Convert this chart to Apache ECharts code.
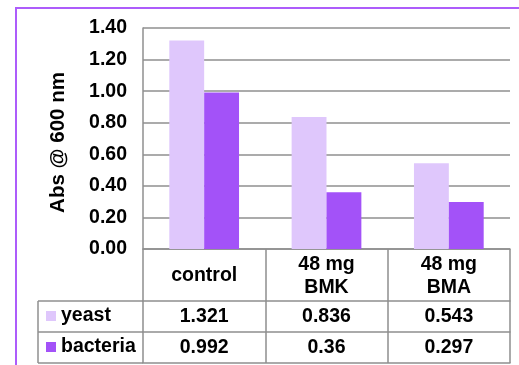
<!DOCTYPE html>
<html>
<head>
<meta charset="utf-8">
<script src="https://cdn.jsdelivr.net/npm/echarts@6/dist/echarts.min.js"></script>
<style>
  html, body { margin: 0; padding: 0; background: #fff; }
  #chart { width: 519px; height: 365px; }
</style>
</head>
<body>
<div id="chart"></div>
<script>
const categories = ['control', '48 mg\nBMK', '48 mg\nBMA'];
const seriesNames = ['yeast', 'bacteria'];
const yeast = [1.321, 0.836, 0.543];
const bacteria = [0.992, 0.36, 0.297];
const yMin = 0, yMax = 1.4, yStep = 0.2;
const yTitle = 'Abs @ 600 nm';

const FONT = '"Liberation Sans", Arial, sans-serif';
const GRAY = '#8f8f8f';
const LW = 1.5;
const yeastColor = '#dfc7fc';
const bacteriaColor = '#a352f8';
const borderColor = '#ad5cfb';

const txt = { color: '#000', fontFamily: FONT, fontWeight: 'bold', fontSize: 19.5 };

function catLabel(v) {
  if (v.indexOf('\n') >= 0) {
    return v.split('\n').map(s => '{two|' + s + '}').join('\n');
  }
  return '{one|' + v + '}';
}

const chart = echarts.init(document.getElementById('chart'), null, { renderer: 'canvas' });
chart.setOption({
  animation: false,
  backgroundColor: '#fff',
  grid: { left: 143, right: 9, top: 28, bottom: 116, containLabel: false, outerBoundsMode: 'none' },
  legend: {
    data: seriesNames,
    orient: 'vertical',
    left: 46, top: 306,
    padding: 0,
    itemWidth: 10, itemHeight: 10, itemGap: 11,
    icon: 'rect',
    selectedMode: false,
    textStyle: Object.assign({}, txt, { lineHeight: 20, padding: 0 })
  },
  xAxis: [
    {
      type: 'category', data: categories, position: 'bottom', boundaryGap: true,
      axisLine: { show: true, lineStyle: { color: GRAY, width: LW } },
      axisTick: { show: true, interval: 0, length: 114, lineStyle: { color: GRAY, width: LW } },
      axisLabel: {
        interval: 0, margin: 4, formatter: catLabel,
        rich: {
          one: Object.assign({}, txt, { lineHeight: 46 }),
          two: Object.assign({}, txt, { lineHeight: 23 })
        }
      },
      splitLine: { show: false }
    },
    {
      type: 'category', data: categories, position: 'bottom', offset: 52,
      axisLine: { show: true, lineStyle: { color: GRAY, width: LW } },
      axisTick: { show: false },
      axisLabel: Object.assign({}, txt, { interval: 0, margin: 0, lineHeight: 31,
        formatter: (v, i) => String(yeast[i]) }),
      splitLine: { show: false }
    },
    {
      type: 'category', data: categories, position: 'bottom', offset: 83,
      axisLine: { show: true, lineStyle: { color: GRAY, width: LW } },
      axisTick: { show: false },
      axisLabel: Object.assign({}, txt, { interval: 0, margin: 0, lineHeight: 31,
        formatter: (v, i) => String(bacteria[i]) }),
      splitLine: { show: false }
    },
    {
      type: 'category', data: categories, position: 'bottom', offset: 114,
      axisLine: { show: true, lineStyle: { color: GRAY, width: LW } },
      axisTick: { show: false },
      axisLabel: { show: false },
      splitLine: { show: false }
    }
  ],
  yAxis: {
    type: 'value', min: yMin, max: yMax, interval: yStep,
    name: yTitle, nameLocation: 'middle', nameRotate: 90, nameGap: 74,
    nameMoveOverlap: false,
    nameTextStyle: Object.assign({}, txt, { fontSize: 20.5, padding: [0, 8, 0, 0] }),
    axisLine: { show: true, lineStyle: { color: GRAY, width: LW } },
    axisTick: { show: false },
    axisLabel: Object.assign({}, txt, { margin: 16, formatter: v => v.toFixed(2) }),
    splitLine: { show: true, lineStyle: { color: GRAY, width: LW } }
  },
  series: [
    {
      name: seriesNames[0], type: 'bar', data: yeast, xAxisIndex: 0,
      barGap: '0%', barCategoryGap: '43%',
      itemStyle: { color: yeastColor }
    },
    {
      name: seriesNames[1], type: 'bar', data: bacteria, xAxisIndex: 0,
      barGap: '0%', barCategoryGap: '43%',
      itemStyle: { color: bacteriaColor }
    }
  ],
  graphic: [
    { type: 'rect', shape: { x: 16, y: 8, width: 700, height: 700 },
      style: { fill: null, stroke: borderColor, lineWidth: 2 }, silent: true },
    { type: 'line', shape: { x1: 38, y1: 301, x2: 143, y2: 301 }, style: { stroke: GRAY, lineWidth: LW }, silent: true },
    { type: 'line', shape: { x1: 38, y1: 332, x2: 143, y2: 332 }, style: { stroke: GRAY, lineWidth: LW }, silent: true },
    { type: 'line', shape: { x1: 38, y1: 363, x2: 143, y2: 363 }, style: { stroke: GRAY, lineWidth: LW }, silent: true },
    { type: 'line', shape: { x1: 38, y1: 301, x2: 38, y2: 363 }, style: { stroke: GRAY, lineWidth: LW }, silent: true }
  ]
});
</script>
</body>
</html>
